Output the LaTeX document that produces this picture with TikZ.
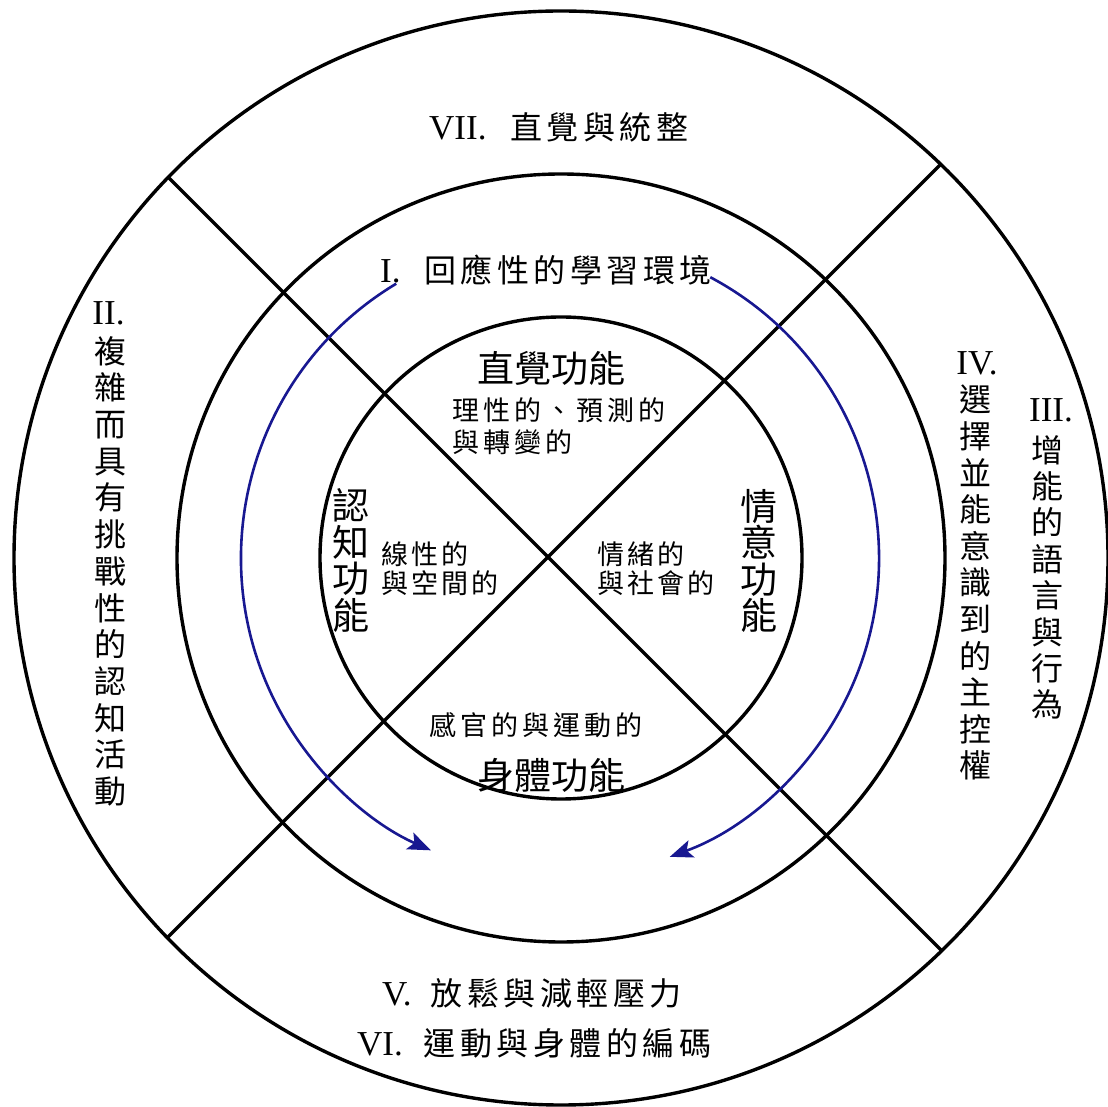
\documentclass[tikz,border=0pt]{standalone}
\usepackage{fontspec}
\setmainfont{Liberation Serif}
\newfontfamily\cjk{Noto Sans CJK TC}
\usetikzlibrary{arrows.meta}
\definecolor{arcblue}{RGB}{24,24,145}
\makeatletter
\newcommand\lsp[2]{\def\lsp@k{#1}\lsp@go#2\lsp@end}
\let\lsp@end\relax
\def\lsp@go#1{\ifx#1\lsp@end\else#1\kern\lsp@k\expandafter\lsp@go\fi}
\makeatother
\begin{document}
\begin{tikzpicture}[x=1pt,y=1pt,
  ring/.style={draw=black,line width=3.4pt},
  divider/.style={draw=black,line width=3.4pt},
  flow/.style={draw=arcblue,line width=2.6pt,-{Stealth[length=23pt,width=18pt,inset=5pt]}},
  roman/.style={font=\fontsize{35}{40}\selectfont,inner sep=0pt},
  bigcjk/.style={font=\cjk\fontsize{32}{36.6}\selectfont,inner sep=0pt,align=center},
  title/.style={font=\cjk\fontsize{37}{36.5}\selectfont,inner sep=0pt,align=center},
  small/.style={font=\cjk\fontsize{27}{31}\selectfont,inner sep=0pt,align=left}
]
\useasboundingbox (0,0) rectangle (1108,1106);
\fill[white] (0,0) rectangle (1108,1106);
\coordinate (C) at (561,548);
% rings
\draw[ring] (C) circle[radius=547];
\draw[ring] (C) circle[radius=384];
\draw[ring] (C) circle[radius=241];
% dividers
\coordinate (NW) at (168.3,928.7);
\coordinate (SE) at (941.7,155.3);
\coordinate (NE) at (940.7,941.7);
\coordinate (SW) at (167.3,168.3);
\draw[divider] (NW) -- (SE);
\draw[divider] (NE) -- (SW);
% blue flow arcs
\draw[flow] ([shift={(121:320)}]C) arc[start angle=121,end angle=246,radius=320];
\draw[flow] ([shift={(62:318)}]C) arc[start angle=62,end angle=-70,radius=318];
% outer ring labels
\node[roman,anchor=base west] (t7) at (429,966) {VII.\hspace{23.5pt}{\cjk\fontsize{32}{36}\selectfont\lsp{4.5pt}{直覺與統整}}};
\node[roman,anchor=base west] (t5) at (382,101) {V.\hspace{19pt}{\cjk\fontsize{32}{36}\selectfont\lsp{4.5pt}{放鬆與減輕壓力}}};
\node[roman,anchor=base west] (t6) at (357,51) {VI.\hspace{21pt}{\cjk\fontsize{32}{36}\selectfont\lsp{4.5pt}{運動與身體的編碼}}};
\node[roman,anchor=base] (t2r) at (108.5,781) {II.};
\node[bigcjk,anchor=north,font=\cjk\fontsize{32}{36.7}\selectfont] (t2) at (110.5,770) {複\\雜\\而\\具\\有\\挑\\戰\\性\\的\\認\\知\\活\\動};
\node[roman,anchor=base] (t4r) at (977,731) {IV.};
\node[bigcjk,anchor=north] (t4) at (975,721) {選\\擇\\並\\能\\意\\識\\到\\的\\主\\控\\權};
\node[roman,anchor=base] (t3r) at (1051,684) {III.};
\node[bigcjk,anchor=north,font=\cjk\fontsize{32}{36.4}\selectfont] (t3) at (1047,671) {增\\能\\的\\語\\言\\與\\行\\為};
% middle ring label
\node[roman,anchor=base west] (t1) at (380,823) {I.\hspace{23.5pt}{\cjk\fontsize{32}{36}\selectfont\lsp{4.5pt}{回應性的學習環境}}};
% inner titles
\node[title] (fi) at (551,737.5) {直覺功能};
\node[title] (fb) at (551.5,331) {身體功能};
\node[title] (fc) at (351,545.5) {認\\知\\功\\能};
\node[title] (fa) at (758.5,545) {情\\意\\功\\能};
% inner descriptions
\node[small,anchor=north west,font=\cjk\fontsize{27}{32}\selectfont] (di) at (452,708) {\lsp{4pt}{理性的、預測的}\\\lsp{4pt}{與轉變的}};
\node[small,anchor=north west,font=\cjk\fontsize{27}{29}\selectfont] (dc) at (381,564) {\lsp{3pt}{線性的}\\\lsp{3pt}{與空間的}};
\node[small,anchor=north west,font=\cjk\fontsize{27}{29}\selectfont] (da) at (597,564) {\lsp{3pt}{情緒的}\\\lsp{3pt}{與社會的}};
\node[small,anchor=north west] (db) at (429,394) {\lsp{4pt}{感官的與運動的}};
\end{tikzpicture}
\end{document}
